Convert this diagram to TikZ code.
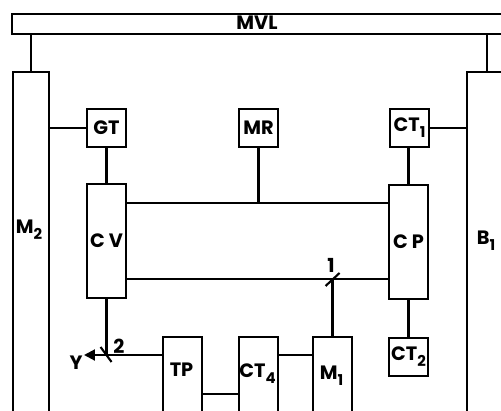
\documentclass[tikz,border=0pt]{standalone}
\usepackage{fontspec}
\setmainfont{Poppins}
\usetikzlibrary{arrows.meta}
\newcommand{\lowidx}[1]{\raisebox{-0.55ex}{\fontsize{8.5}{9}\selectfont #1}}

\begin{document}
\begin{tikzpicture}[
    x=0.02cm,
    y=-0.02cm,
    line width=1.2pt,
    box/.style={
        draw,
        rectangle,
        inner sep=0pt,
        minimum width=0.78cm,
        anchor=north west,
    },
    every node/.style={
        font=\bfseries\fontsize{11}{12}\selectfont,
    },
]
    \useasboundingbox (0,0) rectangle (501,410);
    \clip (0,0) rectangle (501,410);

    % bar and the two long units at the sides
    \node[box,minimum width=10.4cm,minimum height=0.4cm] (MVL) at (11,13) {};
    \node (MVL-label) at (257,23) {MVL};
    \node[box,minimum width=0.72cm,minimum height=7.5cm] (M2) at (12,71) {};
    \node (M2-label) at (29,230) {M\lowidx{2}};
    \node[box,minimum width=0.8cm,minimum height=7.5cm] (B1) at (466,71) {};
    \node (B1-label) at (486,241) {B\lowidx{1}};

    \foreach \name/\x/\txt in {GT/86/GT,MR/238/MR,CT1/389/{CT\lowidx{1}}} {
        \node[box,minimum height=0.76cm] (\name) at (\x,108) {\txt};
    }

    \node[box,minimum height=2.28cm] (CV) at (86,183) {C V};
    \node[box,minimum height=2.28cm] (CP) at (388,184) {C P};
    \node[box,minimum height=0.76cm] (CT2) at (388,337) {CT\lowidx{2}};

    \foreach \name/\x/\y/\txt in {TP/162/370/TP,CT4/238/374/{CT\lowidx{4}},M1/312/376/{M\lowidx{1}}} {
        \node[box,minimum height=2cm] (\name) at (\x,336) {};
        \node (\name-label) at (\x+19.5,\y) {\txt};
    }

    \draw (M2.north) -- (M2.north |- MVL.south);
    \draw (B1.north) -- (B1.north |- MVL.south);
    \draw (GT.west) -- (GT.west -| M2.east);
    \draw (CT1.east) -- (CT1.east -| B1.west);
    \draw (GT.south) -- (CV.north);
    \draw (CP.north) -- (CP.north |- CT1.south);
    \draw (CP.south) -- (CT2.north);

    \draw (CV.east |- 0,203) -- (CP.west |- 0,203);
    \draw (MR.south) -- (MR.south |- 0,203);
    \draw (CV.east |- 0,279) -- (CP.west |- 0,279);

    % switch 1
    \coordinate (sw1) at (M1.north |- 0,279);
    \draw (M1.north) -- (sw1);
    \draw ([shift={(-7,7)}]sw1) -- ([shift={(7,-6)}]sw1);
    \node (sw1-label) at (331,265) {1};

    % switch 2 and output Y
    \coordinate (sw2) at (CV.south |- 0,355);
    \coordinate (Ytip) at (84,355);
    \draw (CV.south) -- (sw2);
    \draw[-{Triangle[length=0.22cm,width=0.22cm]}] (TP.west |- sw2) -- (Ytip);
    \draw ([shift={(-6,-8)}]sw2) -- ([shift={(5,7)}]sw2);
    \node (sw2-label) at (119,346) {2};
    \node (Y-label) at (76,363) {Y};

    \draw (TP.east |- 0,394) -- (CT4.west |- 0,394);
    \draw (CT4.east |- 0,355) -- (M1.west |- 0,355);
\end{tikzpicture}
\end{document}
